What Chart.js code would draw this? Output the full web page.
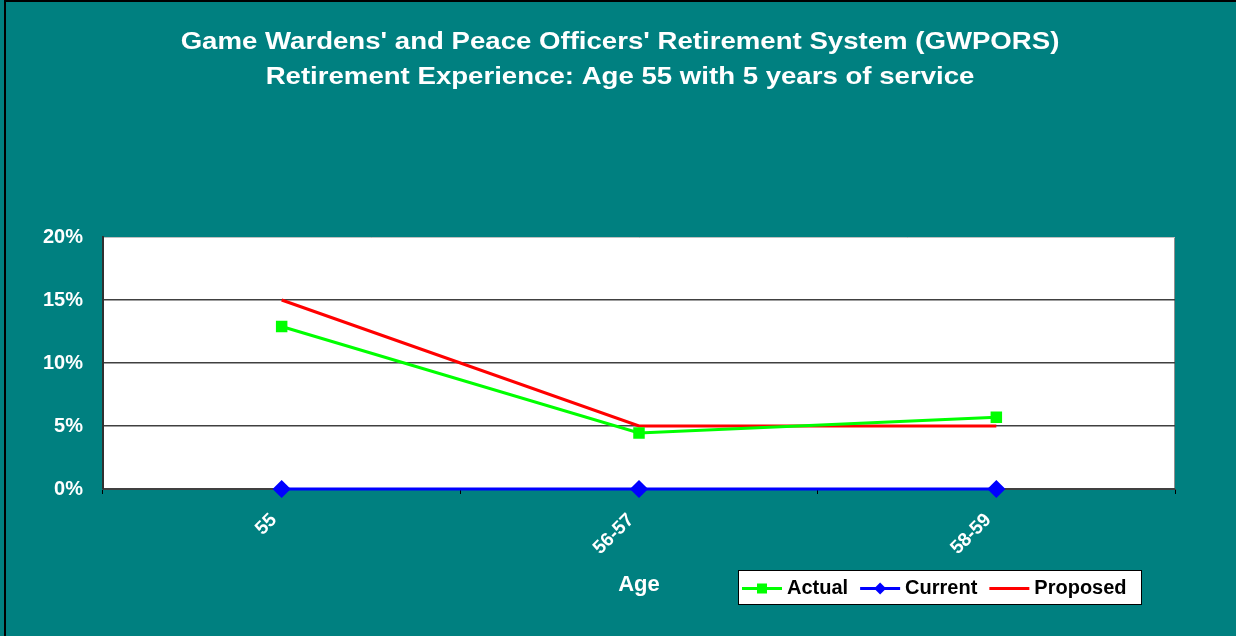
<!DOCTYPE html>
<html>
<head>
<meta charset="utf-8">
<script src="https://cdn.jsdelivr.net/npm/chart.js@4.4.0/dist/chart.umd.min.js"></script>
<style>
  html, body { margin: 0; padding: 0; background: #008080; }
  #wrap { width: 1236px; height: 636px; position: relative; }
</style>
</head>
<body>
<div id="wrap"><canvas id="myChart"></canvas></div>
<script>
var ages = ['55', '56-57', '58-59']
var actual = [12.9, 4.45, 5.7]
var current = [0, 0, 0]
var proposed = [15, 5, 5]
var yTicks = [0, 5, 10, 15, 20]
var titleLines = ["Game Wardens' and Peace Officers' Retirement System (GWPORS)",
                  'Retirement Experience: Age 55 with 5 years of service']

var font = "'Liberation Sans', Arial, sans-serif"

// teal page, black frame, white plot area
var backdrop = {
  id: 'backdrop',
  beforeDraw: function (chart) {
    var ctx = chart.ctx
    var a = chart.chartArea
    ctx.save()
    ctx.fillStyle = '#008080'
    ctx.fillRect(0, 0, chart.width, chart.height)
    ctx.strokeStyle = '#000'
    ctx.lineWidth = 2
    ctx.beginPath()
    ctx.moveTo(5, chart.height)
    ctx.lineTo(5, 1)
    ctx.lineTo(chart.width, 1)
    ctx.stroke()
    ctx.fillStyle = '#fff'
    ctx.fillRect(a.left, a.top, a.right - a.left, a.bottom - a.top)
    ctx.strokeStyle = '#909090'
    ctx.lineWidth = 1
    ctx.beginPath()
    ctx.moveTo(a.left, a.top + 0.5)
    ctx.lineTo(a.right - 0.5, a.top + 0.5)
    ctx.lineTo(a.right - 0.5, a.bottom)
    ctx.stroke()
    ctx.restore()
  }
}

// the title is a bit wide in the original, so stretch it
var wideTitle = {
  id: 'wideTitle',
  afterDraw: function (chart) {
    var ctx = chart.ctx
    ctx.save()
    ctx.fillStyle = '#fff'
    ctx.font = 'bold 24px ' + font
    ctx.textAlign = 'center'
    ctx.textBaseline = 'alphabetic'
    titleLines.forEach(function (t, i) {
      ctx.save()
      ctx.translate(620, 49 + i * 35)
      ctx.scale(1.15, 1)
      ctx.fillText(t, 0, 0)
      ctx.restore()
    })
    ctx.restore()
  }
}

// legend box like the spreadsheet one
var boxLegend = {
  id: 'boxLegend',
  afterDraw: function (chart) {
    var ctx = chart.ctx
    var x0 = 738, y0 = 570, w = 404, h = 35
    ctx.save()
    ctx.fillStyle = '#fff'
    ctx.fillRect(x0, y0, w, h)
    ctx.strokeStyle = '#000'
    ctx.lineWidth = 1
    ctx.strokeRect(x0 + 0.5, y0 + 0.5, w - 1, h - 1)
    ctx.font = 'bold 20px ' + font
    ctx.textBaseline = 'middle'
    var x = x0 + 4
    var cy = y0 + h / 2 + 1
    chart.data.datasets.forEach(function (ds) {
      ctx.strokeStyle = ds.borderColor
      ctx.lineWidth = 3
      ctx.beginPath()
      ctx.moveTo(x, cy)
      ctx.lineTo(x + 40, cy)
      ctx.stroke()
      ctx.fillStyle = ds.borderColor
      if (ds.pointStyle === 'rect') {
        ctx.fillRect(x + 15, cy - 5, 10, 10)
      } else if (ds.pointStyle === 'rectRot') {
        ctx.beginPath()
        ctx.moveTo(x + 20, cy - 6)
        ctx.lineTo(x + 26, cy)
        ctx.lineTo(x + 20, cy + 6)
        ctx.lineTo(x + 14, cy)
        ctx.fill()
      }
      ctx.fillStyle = '#000'
      ctx.fillText(ds.label, x + 45, cy)
      x += 45 + ctx.measureText(ds.label).width + 12
    })
    ctx.restore()
  }
}

var ctx = document.getElementById('myChart').getContext('2d')
var myChart = new Chart(ctx, {
  type: 'line',
  data: {
    labels: ages,
    datasets: [{
      label: 'Actual',
      data: actual,
      borderColor: '#00ff00',
      backgroundColor: '#00ff00',
      borderWidth: 3,
      pointStyle: 'rect',
      pointRadius: 6,
      tension: 0,
      clip: false
    }, {
      label: 'Current',
      data: current,
      borderColor: '#0000ff',
      backgroundColor: '#0000ff',
      borderWidth: 3,
      pointStyle: 'rectRot',
      pointRadius: 7,
      tension: 0,
      clip: false
    }, {
      label: 'Proposed',
      data: proposed,
      borderColor: '#ff0000',
      backgroundColor: '#ff0000',
      borderWidth: 3,
      pointRadius: 0,
      tension: 0,
      clip: false
    }]
  },
  options: {
    responsive: true,
    maintainAspectRatio: false,
    animation: false,
    layout: {
      padding: { left: 5, right: 61, top: 237, bottom: 35 }
    },
    plugins: {
      legend: { display: false },
      tooltip: { enabled: false },
      title: { display: false }
    },
    scales: {
      x: {
        offset: true,
        grid: {
          offset: true,
          drawOnChartArea: false,
          color: '#000',
          tickLength: 5
        },
        border: { color: '#404040', width: 1 },
        ticks: {
          color: '#fff',
          font: { family: font, size: 19, weight: 'bold' },
          maxRotation: 45,
          minRotation: 45,
          padding: 15,
          labelOffset: -8
        },
        title: {
          display: true,
          text: 'Age',
          color: '#fff',
          font: { family: font, size: 22, weight: 'bold' },
          padding: { top: 4, bottom: 3 }
        },
        afterFit: function (s) { s.height = 112 }
      },
      y: {
        min: 0,
        max: 20,
        afterBuildTicks: function (s) {
          s.ticks = yTicks.map(function (v) { return { value: v } })
        },
        grid: {
          color: function (c) { return c.tick && c.tick.value === 20 ? '#c0c0c0' : '#404040' },
          lineWidth: function (c) { return c.tick && c.tick.value === 20 ? 1 : 1.5 },
          drawTicks: false
        },
        border: { color: '#303030', width: 2 },
        ticks: {
          color: '#fff',
          font: { family: font, size: 20, weight: 'bold' },
          padding: 20,
          callback: function (v) { return v + '%' }
        },
        afterFit: function (s) { s.width = 98 }
      }
    }
  },
  plugins: [backdrop, wideTitle, boxLegend]
})
</script>
</body>
</html>
